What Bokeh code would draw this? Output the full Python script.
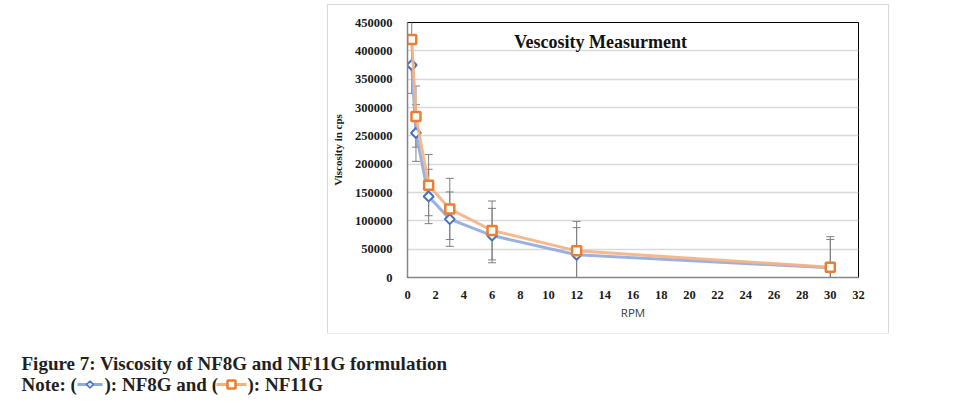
from bokeh.plotting import figure
from bokeh.layouts import column, row
from bokeh.models import (ColumnDataSource, Whisker, FixedTicker, PrintfTickFormatter,
                          Label, Range1d, TeeHead, Spacer)
from bokeh.core.properties import value
from bokeh.embed import file_html
from bokeh.resources import INLINE
import numpy as np

# ---- data ----
rpm = [0.3, 0.6, 1.5, 3, 6, 12, 30]
nf8g = [375000, 255000, 143000, 103000, 74000, 40000, 17000]
nf11g = [420000, 284000, 163000, 121000, 83000, 47000, 18000]
nf8g_err = [50000, 50000, 48000, 48000, 48000, 48000, 50000]
nf11g_err = [50000, 54000, 54000, 54000, 52000, 52000, 54000]
x_ticks = list(range(0, 33, 2))
y_ticks = list(range(0, 450001, 50000))

chart_title = "Vescosity Measurment"
y_title = "Viscosity in cps"
x_title = "RPM"
caption1 = "Figure 7: Viscosity of NF8G and NF11G formulation"
caption2_parts = ["Note: (", "): NF8G and (", "): NF11G"]

SERIF = "Liberation Serif"

# chart box in page pixels
BL, BR, BT, BB = 328, 888, 5, 333
# frame in page pixels
FL, FR, FT, FB = 406, 858, 22, 277

p = figure(width=BR - BL, height=BB - BT, output_backend="svg", toolbar_location=None,
           x_range=Range1d(0, 32), y_range=Range1d(0, 450000),
           min_border_left=FL - BL, min_border_right=BR - FR,
           min_border_top=FT - BT, min_border_bottom=BB - FB,
           styles={"outline": "1.5px solid #d9d9d9"})
p.background_fill_color = "white"
p.border_fill_color = "white"
p.outline_line_color = "black"
p.outline_line_width = 1

p.xgrid.visible = False
p.ygrid.ticker = FixedTicker(ticks=y_ticks)
p.ygrid.grid_line_color = "#d9d9d9"
p.ygrid.grid_line_width = 1.5

p.xaxis.ticker = FixedTicker(ticks=x_ticks)
p.yaxis.ticker = FixedTicker(ticks=y_ticks)
p.yaxis.formatter = PrintfTickFormatter(format="%d")
for ax in (p.xaxis[0], p.yaxis[0]):
    ax.axis_line_color = "#868686"
    ax.axis_line_width = 1.5
    ax.major_tick_line_color = None
    ax.minor_tick_line_color = None
    ax.major_label_text_font = SERIF
    ax.major_label_text_font_style = "bold"
    ax.major_label_text_font_size = "12.5px"
    ax.major_label_text_color = "#1a1a1a"
p.yaxis.major_label_standoff = 9
p.xaxis.major_label_standoff = 7

p.yaxis.axis_label = y_title
p.yaxis.axis_label_text_font = SERIF
p.yaxis.axis_label_text_font_style = "bold"
p.yaxis.axis_label_text_font_size = "11px"
p.yaxis.axis_label_standoff = 8
p.yaxis.axis_label_text_color = "#1a1a1a"

p.xaxis.axis_label = x_title
p.xaxis.axis_label_text_font = "Open Sans"
p.xaxis.axis_label_text_font_style = "normal"
p.xaxis.axis_label_text_font_size = "11.5px"
p.xaxis.axis_label_standoff = 3
p.xaxis.axis_label_text_color = "#404040"

a, b = np.array(nf8g), np.array(nf11g)
src = ColumnDataSource(dict(
    x=rpm, a=nf8g, b=nf11g,
    a_lo=a - np.array(nf8g_err), a_hi=a + np.array(nf8g_err),
    b_lo=b - np.array(nf11g_err), b_hi=b + np.array(nf11g_err),
))

ERR = "#7f7f7f"
for lo, hi in (("a_lo", "a_hi"), ("b_lo", "b_hi")):
    w = Whisker(source=src, base="x", lower=lo, upper=hi, line_color=ERR, line_width=1,
                upper_head=TeeHead(size=8, line_color=ERR, line_width=1),
                lower_head=TeeHead(size=8, line_color=ERR, line_width=1))
    p.add_layout(w)

p.line("x", "a", source=src, line_color="#8faadc", line_width=3, line_alpha=0.9)
p.scatter("x", "a", source=src, marker="square", angle=np.pi / 4, size=7,
          line_color="#4472c4", line_width=2, fill_color="white")
p.line("x", "b", source=src, line_color="#f4b183", line_width=3, line_alpha=0.9)
p.scatter("x", "b", source=src, marker="square", size=9, line_color="#ed7d31",
          line_width=2.5, fill_color="white")

p.add_layout(Label(x=13.7, y=416000, text=chart_title, text_font=SERIF,
                   text_font_style="bold", text_font_size="18px", text_color="#111111",
                   text_align="center", text_baseline="middle"))

# ---- caption (page decorations in pixel coordinates) ----
CW, CH = 951, 66
CTOP = BB
c = figure(width=CW, height=CH, output_backend="svg", toolbar_location=None,
           x_range=Range1d(0, CW), y_range=Range1d(CH, 0),
           min_border=0, min_border_left=0, min_border_right=0,
           min_border_top=0, min_border_bottom=0)
c.axis.visible = False
c.grid.visible = False
c.outline_line_color = None
c.background_fill_color = "white"
c.border_fill_color = "white"

CAP = "#231f20"
c.text(x=[21, 21, 104, 247],
       y=[363 - CTOP, 384 - CTOP, 384 - CTOP, 384 - CTOP],
       text=[caption1] + caption2_parts,
       text_font=value(SERIF), text_font_style="bold", text_font_size="19px",
       text_color=CAP, text_baseline="middle", text_align="left")
# legend glyphs inside the caption
c.line(x=[77, 102], y=[384 - CTOP] * 2, line_color="#8faadc", line_width=3)
c.scatter(x=[89.5], y=[384 - CTOP], marker="square", angle=np.pi / 4, size=5,
          line_color="#4472c4", line_width=1.5, fill_color="#dbe4f5")
c.line(x=[216, 246], y=[384 - CTOP] * 2, line_color="#f4b183", line_width=3)
c.scatter(x=[231], y=[384 - CTOP], marker="square", size=8, line_color="#ed7d31",
          line_width=2.5, fill_color="white")

layout = column(Spacer(height=BT),
                row(Spacer(width=BL), p),
                c)

open("out.html", "w").write(file_html(layout, INLINE))
